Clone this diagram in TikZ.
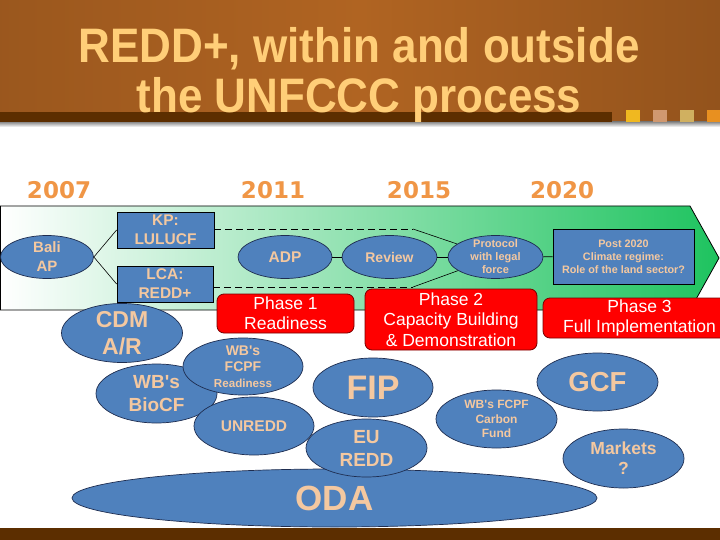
\documentclass[tikz,border=0pt]{standalone}
\usepackage{fontspec}
\setmainfont{Liberation Sans}
\newfontfamily\yearfont{DejaVu Sans}
\usetikzlibrary{shapes.geometric, positioning}

\definecolor{hdark}{RGB}{68,36,12}
\definecolor{hmid}{RGB}{176,100,34}
\definecolor{titleyellow}{RGB}{255,206,120}
\definecolor{barbrown}{RGB}{92,46,0}
\definecolor{sqyellow}{RGB}{240,184,32}
\definecolor{sqtan}{RGB}{208,152,112}
\definecolor{sqkhaki}{RGB}{208,176,96}
\definecolor{sqorange}{RGB}{232,144,32}
\definecolor{yearorange}{RGB}{240,150,70}
\definecolor{bandmid}{RGB}{175,225,185}
\definecolor{bandgreen}{RGB}{30,195,95}
\definecolor{nodeblue}{RGB}{79,129,189}
\definecolor{nodeline}{RGB}{30,45,80}
\definecolor{peach}{RGB}{244,200,160}
\definecolor{phasered}{RGB}{255,0,0}
\definecolor{phaseline}{RGB}{120,0,0}

\pgfdeclarehorizontalshading{headershade}{100bp}{
  color(0bp)=(hdark); color(25bp)=(hmid!80!hdark); color(50bp)=(hmid);
  color(78bp)=(hmid!70!hdark); color(100bp)=(hdark)}

\newcommand{\setfs}[2]{\fontsize{#1}{#2}\selectfont}

\tikzset{
  blob/.style={ellipse, draw=nodeline, line width=0.7pt, fill=nodeblue, text=peach,
    inner xsep=0pt, inner ysep=-10pt, align=center},
  plainbox/.style={rectangle, draw=black, line width=0.8pt, fill=nodeblue, text=peach,
    inner sep=0pt, align=center},
  phasebox/.style={rectangle, rounded corners=7pt, draw=phaseline, line width=0.8pt,
    fill=phasered, text=white, inner sep=0pt, align=center},
  yearlabel/.style={text=yearorange, font=\yearfont\bfseries\setfs{23}{23}},
  titleline/.style={text=titleyellow, anchor=base, font=\bfseries\setfs{44}{44}}
}

\begin{document}
\begin{tikzpicture}[x=1pt,y=-1pt]
  \useasboundingbox (0,0) rectangle (720,540);
  \fill[white] (0,0) rectangle (720,540);

  % header
  \shade[shading=headershade] (0,0) rectangle (720,122);
  \fill[top color=black!45, bottom color=white] (0,122) rectangle (720,127);
  \fill[barbrown] (0,112) rectangle (612,122);
  \fill[sqyellow] (626,110) rectangle (640,122);
  \fill[sqtan]    (653,110) rectangle (667,122);
  \fill[sqkhaki]  (680,110) rectangle (694,122);
  \fill[sqorange] (707,110) rectangle (720,122);
  \node[titleline] (title1) at (359,63) {\scalebox{1}[1.1]{REDD+, within and outside}};
  \node[titleline] (title2) at (359,113) {\scalebox{1}[1.1]{the UNFCCC process}};

  % years
  \node[yearlabel] (y2007) at (59,190) {2007};
  \node[yearlabel] (y2011) at (273,190) {2011};
  \node[yearlabel] (y2015) at (419,190) {2015};
  \node[yearlabel] (y2020) at (562,190) {2020};

  % UNFCCC arrow band
  \draw[line width=0.8pt, left color=white, middle color=bandmid, right color=bandgreen]
    (0.5,206) -- (690,206) -- (719,258) -- (690,310) -- (0.5,310) -- cycle;

  % track nodes
  \node[blob, minimum width=93pt, minimum height=43pt, font=\bfseries\setfs{15}{19}]
    (bali) at (47,257) {Bali\\AP};
  \node[plainbox, minimum width=97pt, minimum height=36pt, font=\bfseries\setfs{15.5}{19}]
    (kp) at (165.5,230) {KP:\\LULUCF};
  \node[plainbox, minimum width=96pt, minimum height=36pt, font=\bfseries\setfs{15.5}{19}]
    (lca) at (165,284) {LCA:\\REDD+};
  \node[blob, minimum width=94pt, minimum height=43pt, font=\bfseries\setfs{15.5}{19}]
    (adp) at (285,257) {ADP};
  \node[blob, minimum width=95pt, minimum height=43pt, font=\bfseries\setfs{14}{17}]
    (review) at (389.5,257) {Review};
  \node[blob, minimum width=95pt, minimum height=43pt, font=\bfseries\setfs{11}{13}]
    (prot) at (495.5,257) {Protocol\\with legal\\force};
  \node[plainbox, minimum width=141pt, minimum height=55pt, font=\bfseries\setfs{10.8}{13}]
    (post) at (623.5,256.5) {Post 2020\\Climate regime:\\Role of the land sector?};

  % connectors
  \coordinate (kpbend) at (413,229);
  \coordinate (lcabend) at (413,287);
  \draw[line width=0.6pt] (bali.east) -- (kp.west);
  \draw[line width=0.6pt] (bali.east) -- (lca.west);
  \draw[line width=0.7pt, dash pattern=on 7pt off 4pt] (kp.east |- kpbend) -- (kpbend);
  \draw[line width=0.7pt, dash pattern=on 7pt off 4pt] (lca.east |- lcabend) -- (lcabend);
  \draw[line width=0.6pt] (kpbend) -- (prot);
  \draw[line width=0.6pt] (lcabend) -- (prot);
  \draw[line width=0.7pt] (adp) -- (review);
  \draw[line width=0.7pt] (review) -- (prot);
  \draw[line width=0.7pt] (prot) -- (post);

  % phases
  \node[phasebox, minimum width=137pt, minimum height=39pt, font=\setfs{17.5}{20}]
    (phase1) at (285.5,313.5) {Phase 1\\Readiness};
  \node[phasebox, minimum width=172pt, minimum height=61pt, font=\setfs{17.5}{20.5}]
    (phase2) at (451,319.5) {Phase 2\\Capacity Building\\\& Demonstration};
  \node[phasebox, minimum width=193pt, minimum height=40pt, font=\setfs{17.5}{20}]
    (phase3) at (639.5,318) {Phase 3\\Full Implementation};

  % funding sources
  \node[blob, minimum width=525pt, minimum height=58pt, font=\bfseries\setfs{35}{35}]
    (oda) at (334.5,498) {ODA};
  \node[blob, minimum width=121pt, minimum height=59pt, font=\bfseries\setfs{23}{27}]
    (cdm) at (122,333) {CDM\\A/R};
  \node[blob, minimum width=121pt, minimum height=59pt, font=\bfseries\setfs{19}{23}]
    (biocf) at (156.5,393.5) {WB\textquotesingle s\\BioCF};
  \node[blob, minimum width=120pt, minimum height=57pt, font=\bfseries\setfs{14}{16}]
    (fcpf) at (243,366.5) {WB\textquotesingle s\\FCPF\\{\setfs{11.6}{16}Readiness}};
  \node[blob, minimum width=120pt, minimum height=58pt, font=\bfseries\setfs{15.5}{19}]
    (unredd) at (254,426) {UNREDD};
  \node[blob, minimum width=120pt, minimum height=59pt, font=\bfseries\setfs{34}{34}]
    (fip) at (373,387.5) {FIP};
  \node[blob, minimum width=121pt, minimum height=58pt, font=\bfseries\setfs{19}{23}]
    (euredd) at (366.5,448) {EU\\REDD};
  \node[blob, minimum width=121pt, minimum height=58pt, font=\bfseries\setfs{12}{14.5}]
    (carbon) at (496.5,419) {WB\textquotesingle s FCPF\\Carbon\\Fund};
  \node[blob, minimum width=121pt, minimum height=58pt, font=\bfseries\setfs{27.5}{27.5}]
    (gcf) at (597.5,382) {GCF};
  \node[blob, minimum width=121pt, minimum height=59pt, font=\bfseries\setfs{17.5}{20}]
    (markets) at (623.5,458.5) {Markets\\?};

  % footer bar
  \fill[barbrown] (0,528) rectangle (720,540);
\end{tikzpicture}
\end{document}
